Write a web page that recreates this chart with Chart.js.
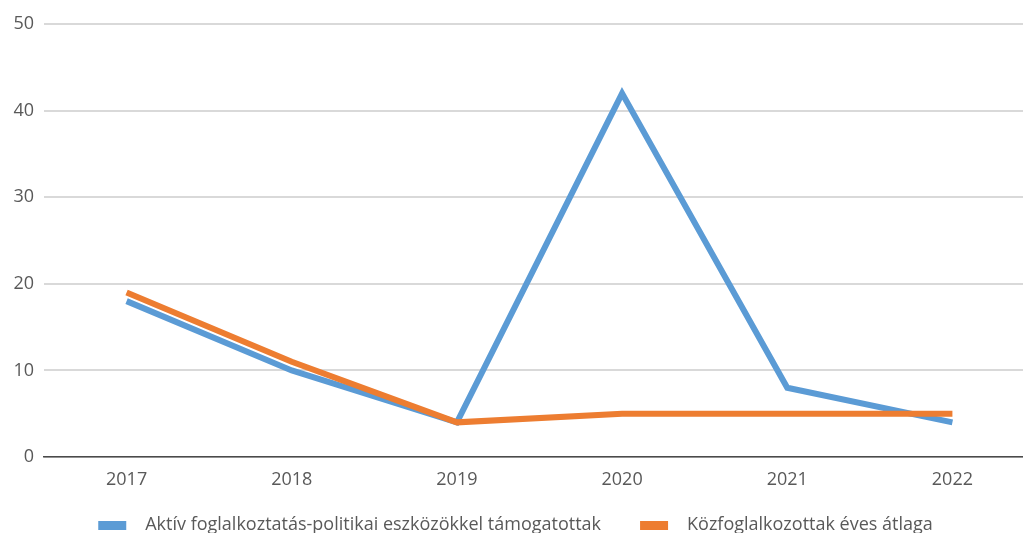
<!DOCTYPE html>
<html>
<head>
<meta charset="utf-8">
<script src="https://cdn.jsdelivr.net/npm/chart.js@4/dist/chart.umd.min.js"></script>
<style>
  html, body { margin: 0; padding: 0; background: #ffffff; overflow: hidden; }
  #wrap { width: 1023px; height: 533px; overflow: hidden; }
</style>
</head>
<body>
<div id="wrap"><canvas id="c" width="1035" height="544"></canvas></div>
<script>
const years = ['2017', '2018', '2019', '2020', '2021', '2022'];
const activeSupported = [18, 10, 4, 42, 8, 4];
const publicWorkAvg = [19, 11, 4, 5, 5, 5];
const seriesNames = ['Aktív foglalkoztatás-politikai eszközökkel támogatottak', 'Közfoglalkozottak éves átlaga'];
const yTicks = [0, 10, 20, 30, 40, 50];

const BLUE = '#5B9BD5';
const ORANGE = '#ED7D31';
const TEXT = '#595959';
const FONT = "'Open Sans', 'DejaVu Sans', sans-serif";

function legendSwatch(color) {
  const cv = document.createElement('canvas');
  cv.width = 52; cv.height = 9;
  const g = cv.getContext('2d');
  g.fillStyle = color;
  g.fillRect(14, 0, 28, 9);
  return cv;
}

const legendShift = {
  id: 'legendShift',
  afterLayout(chart) {
    if (chart.legend) { chart.legend.left -= 9; chart.legend.right -= 9; }
  }
};

new Chart(document.getElementById('c'), {
  type: 'line',
  data: {
    labels: years,
    datasets: [
      { label: seriesNames[0], data: activeSupported, borderColor: BLUE, backgroundColor: BLUE,
        borderWidth: 6, pointRadius: 0, pointHoverRadius: 0, tension: 0, order: 1,
        pointStyle: legendSwatch(BLUE), borderJoinStyle: 'miter' },
      { label: seriesNames[1], data: publicWorkAvg, borderColor: ORANGE, backgroundColor: ORANGE,
        borderWidth: 6, pointRadius: 0, pointHoverRadius: 0, tension: 0, order: 0,
        pointStyle: legendSwatch(ORANGE), borderJoinStyle: 'miter' }
    ]
  },
  plugins: [legendShift],
  options: {
    responsive: false,
    animation: false,
    devicePixelRatio: 1,
    layout: { padding: { top: 24, right: 0, left: 0, bottom: 0 } },
    plugins: {
      tooltip: { enabled: false },
      legend: {
        position: 'bottom',
        labels: {
          usePointStyle: true,
          pointStyleWidth: 52,
          boxHeight: 9,
          padding: 25,
          color: TEXT,
          font: { family: FONT, size: 18 },
          sort: (a, b) => a.datasetIndex - b.datasetIndex
        }
      }
    },
    scales: {
      x: {
        offset: true,
        grid: { display: false, drawTicks: false },
        border: { display: true, color: '#4a4a4a', width: 1.5 },
        ticks: { color: TEXT, font: { family: FONT, size: 18 }, padding: 12, maxRotation: 0 },
        afterFit: s => { s.height = 34; }
      },
      y: {
        min: 0, max: 50,
        afterBuildTicks: s => { s.ticks = yTicks.map(v => ({ value: v })); },
        grid: { color: '#d9d9d9', lineWidth: 2, drawTicks: false },
        border: { display: false },
        ticks: { color: TEXT, font: { family: FONT, size: 18 }, padding: 10 },
        afterFit: s => { s.width = 44; }
      }
    }
  }
});
</script>
</body>
</html>
